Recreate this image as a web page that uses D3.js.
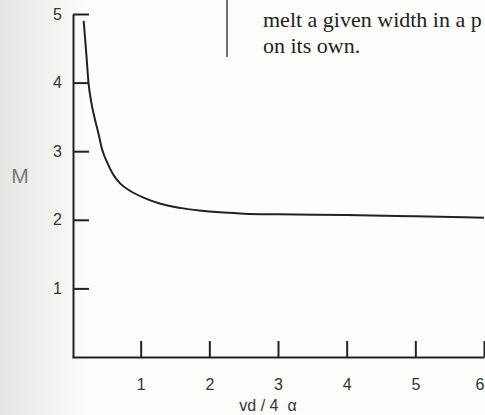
<!DOCTYPE html>
<html lang="en">
<head>
    <meta charset="UTF-8">
    <title>M vs vd/4α</title>
    <script src="https://d3js.org/d3.v7.min.js"></script>
    <style>
        body {
            margin: 0;
            padding: 0;
            background: #fdfdfc;
        }
        svg {
            display: block;
        }
        .page-text {
            font-family: "Liberation Serif", "Times New Roman", serif;
            font-size: 22px;
            fill: #222;
        }
    </style>
</head>
<body>
    <svg></svg>

    <script>
        const width = 485;
        const height = 415;

        // data
        const xTicks = [1, 2, 3, 4, 5, 6];
        const yTicks = [1, 2, 3, 4, 5];
        const vd = [0.17, 0.21, 0.24, 0.28, 0.33, 0.38, 0.44, 0.52, 0.60, 0.70,
                    0.85, 1.05, 1.30, 1.60, 2.0, 2.5, 3.0, 4.0, 5.0, 6.0];
        const M  = [4.90, 4.40, 4.00, 3.72, 3.48, 3.28, 3.02, 2.82, 2.66, 2.53,
                    2.42, 2.32, 2.23, 2.17, 2.12, 2.09, 2.08, 2.07, 2.05, 2.03];
        const pageLines = ["melt a given width in a p", "on its own."];

        const svg = d3.select("svg")
            .attr("width", width)
            .attr("height", height);

        // scanned page shading on the left edge
        const defs = svg.append("defs");
        const grad = defs.append("linearGradient")
            .attr("id", "shade")
            .attr("x1", 0).attr("x2", 1).attr("y1", 0).attr("y2", 0);
        grad.append("stop").attr("offset", "0%").attr("stop-color", "#e4e4e2");
        grad.append("stop").attr("offset", "100%").attr("stop-color", "#fdfdfc");
        svg.append("rect")
            .attr("width", 90)
            .attr("height", height)
            .attr("fill", "url(#shade)");

        const x = d3.scaleLinear().domain([0, 6]).range([72, 484]);
        const y = d3.scaleLinear().domain([0, 5]).range([357, 14]);

        const gx = svg.append("g")
            .attr("transform", `translate(0,${y(0)})`)
            .call(d3.axisBottom(x).tickValues(xTicks).tickFormat(d3.format("d"))
                .tickSize(-16).tickSizeOuter(0).tickPadding(22));

        const gy = svg.append("g")
            .attr("transform", `translate(${x(0) + 1},0)`)
            .call(d3.axisLeft(y).tickValues(yTicks).tickFormat(d3.format("d"))
                .tickSize(-16).tickSizeOuter(0).tickPadding(11));

        [gx, gy].forEach(g => {
            g.attr("font-size", 16)
             .attr("font-family", "'Liberation Sans', Arial, sans-serif");
            g.selectAll(".domain, .tick line")
             .attr("stroke", "#222")
             .attr("stroke-width", 2);
            g.selectAll(".tick text").attr("fill", "#333");
        });

        // the last x label sits on the page edge; keep it inside
        gx.selectAll(".tick text")
            .filter(d => d === 6)
            .attr("text-anchor", "end")
            .attr("x", 0);

        // the curve
        const line = d3.line()
            .x((d, i) => x(vd[i]))
            .y(d => y(d))
            .curve(d3.curveMonotoneX);

        svg.append("path")
            .datum(M)
            .attr("d", line)
            .attr("fill", "none")
            .attr("stroke", "#222")
            .attr("stroke-width", 2);

        // axis titles
        svg.append("text")
            .attr("x", 20)
            .attr("y", 183)
            .attr("text-anchor", "middle")
            .style("font-family", "'Liberation Sans', Arial, sans-serif")
            .style("font-size", "21px")
            .style("fill", "#7a7a7a")
            .text("M");

        svg.append("text")
            .attr("x", 268)
            .attr("y", 411)
            .attr("text-anchor", "middle")
            .attr("xml:space", "preserve")
            .style("white-space", "pre")
            .style("font-family", "'Liberation Sans', Arial, sans-serif")
            .style("font-size", "16px")
            .style("fill", "#333")
            .text("vd / 4  α");

        // bit of page text above the figure
        svg.append("line")
            .attr("x1", 227).attr("x2", 227)
            .attr("y1", 0).attr("y2", 57)
            .attr("stroke", "#444")
            .attr("stroke-width", 1.5);

        svg.selectAll(".page-text")
            .data(pageLines)
            .enter().append("text")
            .attr("class", "page-text")
            .attr("x", 263)
            .attr("y", (d, i) => 27 + i * 26)
            .text(d => d);
    </script>
</body>
</html>
